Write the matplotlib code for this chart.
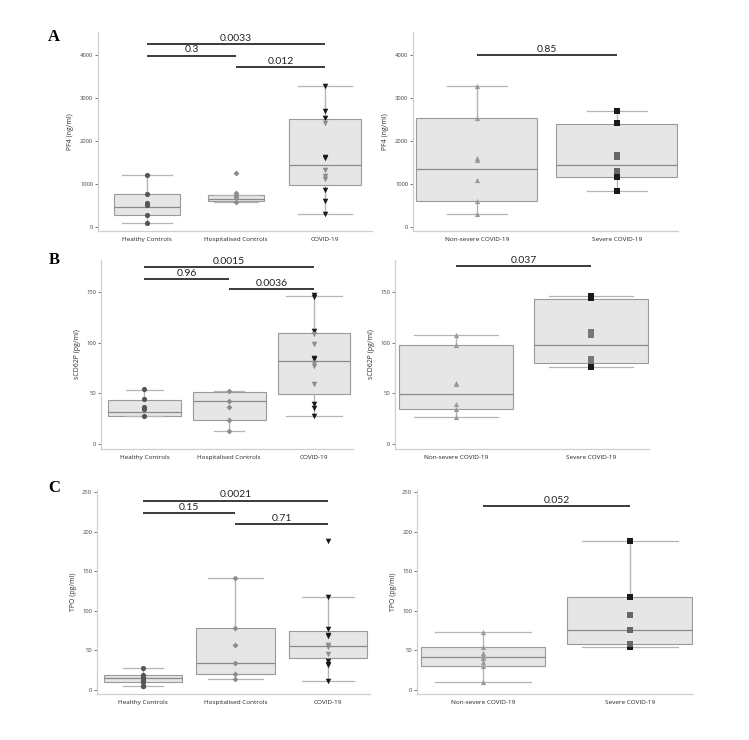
import matplotlib.pyplot as plt

# group names
ctrl_groups = ["Healthy Controls", "Hospitalised Controls", "COVID-19"]
sev_groups = ["Non-severe COVID-19", "Severe COVID-19"]

# box stats: [whislo, q1, med, q3, whishi]
pf4_box = [[100, 287, 466, 761, 1200], [590, 598, 660, 738, 738], [295, 971, 1453, 2502, 3279]]
pf4_sev_box = [[295, 606, 1344, 2525, 3279], [839, 1173, 1453, 2401, 2696]]
cd62_box = [[27.7, 27.7, 31.3, 43.9, 53.7], [12.5, 23.4, 42.2, 51, 52], [27.4, 49, 82, 109.5, 146]]
cd62_sev_box = [[27, 34.6, 49, 97.6, 107.8], [76.5, 80, 97.6, 143, 146]]
tpo_box = [[5, 10, 14.7, 18.5, 27.7], [13.4, 19.9, 33.9, 78.4, 141.5], [10.9, 40.3, 55.5, 74.2, 117]]
tpo_sev_box = [[10.2, 30, 41.3, 53.5, 73.7], [54.7, 57.7, 75.4, 117, 187.8]]

# individual points
pf4_healthy = [1200, 770, 565, 520, 287, 100]
pf4_hosp = [1250, 780, 740, 700, 590]
pf4_covid_dark = [3279, 2704, 2541, 1632, 1608, 855, 614, 295]
pf4_covid_light = [2424, 1321, 1181, 1111]
pf4_nonsev = [3279, 2533, 1600, 1554, 1088, 606, 295]
pf4_sev_dark = [2696, 2424, 1166, 839]
pf4_sev_mid = [1686, 1624, 1305]

cd62_healthy = [54, 44, 37, 35, 28]
cd62_hosp = [52, 42, 36.6, 23.4, 12.5]
cd62_covid_dark = [146.7, 144.7, 111.8, 84.7, 84, 39.6, 35.3, 27.4]
cd62_covid_light = [108.8, 98.3, 79.8, 77, 59.7]
cd62_nonsev = [107.5, 97.6, 60.7, 59.3, 39.2, 34.3, 26.7]
cd62_sev_dark = [145.7, 144, 77.8, 76.5]
cd62_sev_mid = [111, 107.2, 84.4, 81.8]

tpo_healthy = [27.7, 18.5, 16, 14.3, 12.6, 9.2, 5, 4.2]
tpo_hosp = [141.5, 78.4, 57.2, 33.9, 19.9, 13.4]
tpo_covid_dark = [188, 117, 76.3, 69, 67.4, 36.1, 32.8, 30.7, 10.9]
tpo_covid_light = [57.2, 54.7, 45.8]
tpo_nonsev = [73.7, 53.9, 46, 43.8, 41.3, 39.6, 35.2, 30.5, 10.2]
tpo_sev_dark = [187.8, 117.5, 55.2, 54.7]
tpo_sev_mid = [94.7, 75.4, 57.7]

# p-values: (group a, group b, height, label)
pf4_p = [(0, 2, 4258, "0.0033"), (0, 1, 3986, "0.3"), (1, 2, 3730, "0.012")]
pf4_sev_p = [(0, 1, 4000, "0.85")]
cd62_p = [(0, 2, 174.7, "0.0015"), (0, 1, 162.8, "0.96"), (1, 2, 153.3, "0.0036")]
cd62_sev_p = [(0, 1, 176, "0.037")]
tpo_p = [(0, 2, 239.4, "0.0021"), (0, 1, 223.3, "0.15"), (1, 2, 210, "0.71")]
tpo_sev_p = [(0, 1, 232.4, "0.052")]

W, H = 749, 740
fig = plt.figure(figsize=(W / 100, H / 100), dpi=100)


def px_axes(x0, y0, x1, y1):
    return fig.add_axes([x0 / W, 1 - y1 / H, (x1 - x0) / W, (y1 - y0) / H])


def draw_panel(ax, names, boxes, widths, capw, points, pvals, ylabel, ticks):
    stats = []
    for n, b in zip(names, boxes):
        stats.append(dict(label=n, whislo=b[0], q1=b[1], med=b[2], q3=b[3], whishi=b[4], fliers=[]))
    ax.bxp(stats, positions=range(len(names)), widths=widths, capwidths=capw,
           patch_artist=True, showfliers=False,
           boxprops=dict(facecolor="#e6e6e6", edgecolor="#9a9a9a", linewidth=0.8),
           medianprops=dict(color="#8a8a8a", linewidth=0.9),
           whiskerprops=dict(color="#b5b5b5", linewidth=1.0),
           capprops=dict(color="#b5b5b5", linewidth=0.9))
    for pos, vals, marker, color, size in points:
        ax.scatter([pos] * len(vals), vals, marker=marker, color=color, s=size, zorder=3, linewidths=0)
    for a, b, h, txt in pvals:
        ax.plot([a, b], [h, h], color="#2b2b2b", lw=1.3, solid_capstyle="butt", clip_on=False)
        ax.annotate(txt, ((a + b) / 2, h), xytext=(0, 0.8), textcoords="offset points",
                    ha="center", va="bottom", fontsize=7.5, family="Lato", color="#222222",
                    annotation_clip=False)
    ax.set_yticks(ticks)
    ax.set_ylabel(ylabel, fontsize=5, color="#333333", family="Open Sans", labelpad=4)
    for s in ["top", "right"]:
        ax.spines[s].set_visible(False)
    for s in ["left", "bottom"]:
        ax.spines[s].set_color("#cfcfcf")
        ax.spines[s].set_linewidth(0.9)
    ax.tick_params(axis="y", labelsize=4.2, colors="#444444", length=2, width=0.5, pad=1.5)
    ax.tick_params(axis="x", labelsize=4.6, colors="#222222", length=0, pad=4)
    for lab in ax.get_xticklabels() + ax.get_yticklabels():
        lab.set_family("Open Sans")
    ax.set_facecolor("white")


# panel A
ax = px_axes(98, 32, 372, 231)
draw_panel(ax, ctrl_groups, pf4_box, [0.75, 0.62, 0.82], [0.56, 0.5, 0.6],
           [(0, pf4_healthy, "o", "#555555", 14), (1, pf4_hosp, "D", "#8c8c8c", 9),
            (2, pf4_covid_dark, "v", "#1a1a1a", 16), (2, pf4_covid_light, "v", "#8c8c8c", 16)],
           pf4_p, "PF4 (ng/ml)", [0, 1000, 2000, 3000, 4000])
ax.set_xlim(-0.551, 2.528)
ax.set_ylim(-93, 4535)

ax = px_axes(413, 32, 678, 231)
draw_panel(ax, sev_groups, pf4_sev_box, 0.864, 0.43,
           [(0, pf4_nonsev, "^", "#9a9a9a", 14), (1, pf4_sev_dark, "s", "#1a1a1a", 13),
            (1, pf4_sev_mid, "s", "#666666", 13)],
           pf4_sev_p, "PF4 (ng/ml)", [0, 1000, 2000, 3000, 4000])
ax.set_xlim(-0.457, 1.436)
ax.set_ylim(-93, 4535)

# panel B
ax = px_axes(101, 260, 353, 449)
draw_panel(ax, ctrl_groups, cd62_box, 0.86, [0.44, 0.35, 0.65],
           [(0, cd62_healthy, "o", "#555555", 14), (1, cd62_hosp, "D", "#8c8c8c", 9),
            (2, cd62_covid_dark, "v", "#1a1a1a", 16), (2, cd62_covid_light, "v", "#8c8c8c", 16)],
           cd62_p, "sCD62P (pg/ml)", [0, 50, 100, 150])
ax.set_xlim(-0.513, 2.460)
ax.set_ylim(-4.9, 181.6)

ax = px_axes(395, 260, 649, 449)
draw_panel(ax, sev_groups, cd62_sev_box, 0.85, 0.62,
           [(0, cd62_nonsev, "^", "#9a9a9a", 14), (1, cd62_sev_dark, "s", "#1a1a1a", 13),
            (1, cd62_sev_mid, "s", "#777777", 13)],
           cd62_sev_p, "sCD62P (pg/ml)", [0, 50, 100, 150])
ax.set_xlim(-0.452, 1.430)
ax.set_ylim(-4.9, 181.6)

# panel C
ax = px_axes(97, 490, 370, 694)
draw_panel(ax, ctrl_groups, tpo_box, 0.85, [0.44, 0.6, 0.56],
           [(0, tpo_healthy, "o", "#555555", 14), (1, tpo_hosp, "D", "#8c8c8c", 9),
            (2, tpo_covid_dark, "v", "#1a1a1a", 16), (2, tpo_covid_light, "v", "#8c8c8c", 16)],
           tpo_p, "TPO (pg/ml)", [0, 50, 100, 150, 200, 250])
ax.set_xlim(-0.497, 2.454)
ax.set_ylim(-5.4, 252.8)

ax = px_axes(417, 490, 693, 694)
draw_panel(ax, sev_groups, tpo_sev_box, 0.85, 0.65,
           [(0, tpo_nonsev, "^", "#9a9a9a", 14), (1, tpo_sev_dark, "s", "#1a1a1a", 13),
            (1, tpo_sev_mid, "s", "#666666", 13)],
           tpo_sev_p, "TPO (pg/ml)", [0, 50, 100, 150, 200, 250])
ax.set_xlim(-0.449, 1.429)
ax.set_ylim(-5.4, 252.8)

# panel letters
for letter, ypx in [("A", 37), ("B", 260), ("C", 488)]:
    fig.text(54 / W, 1 - ypx / H, letter, fontsize=12, fontweight="bold",
             family="Liberation Serif", ha="center", va="center")

fig.savefig("out.png", dpi=100)
